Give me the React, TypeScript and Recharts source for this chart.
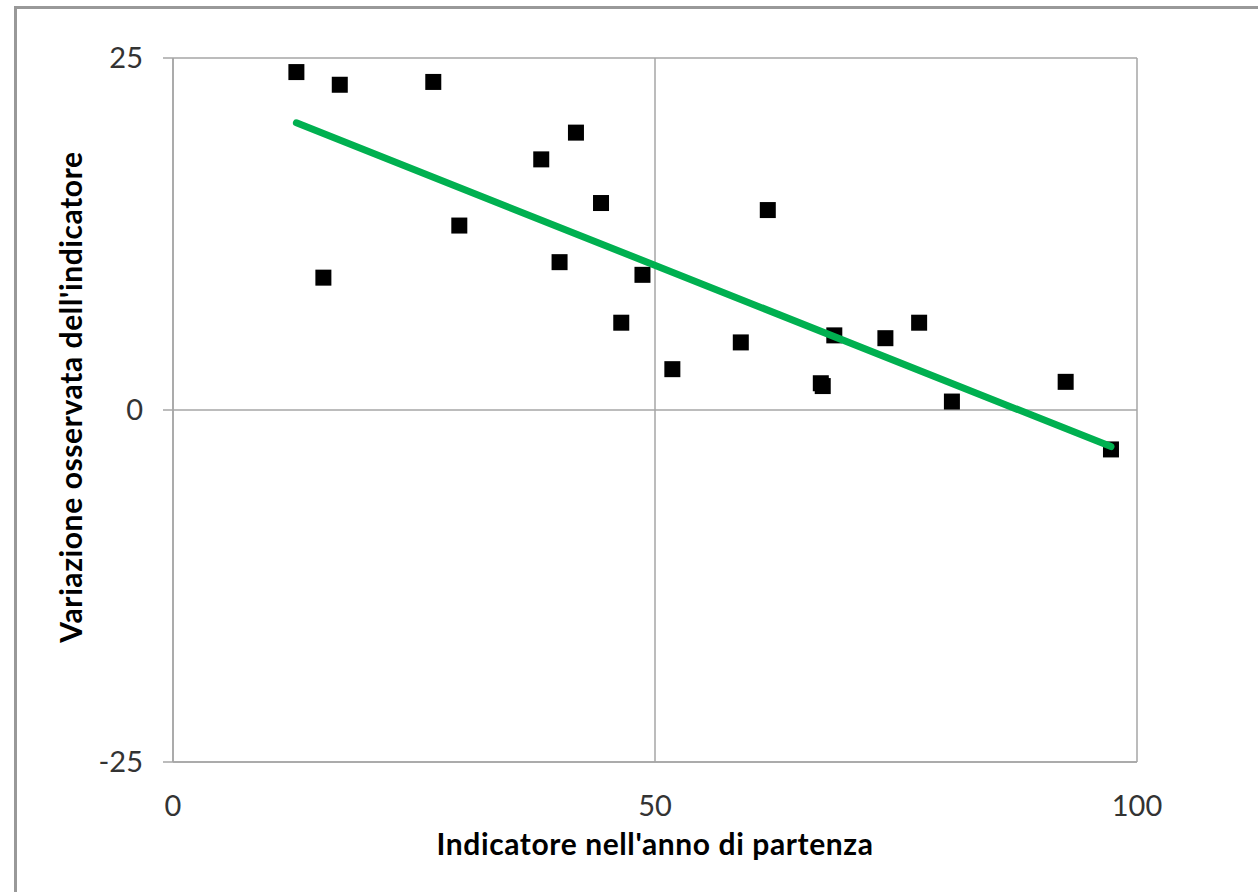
import React from "react";
import { ScatterChart, Scatter, XAxis, YAxis, CartesianGrid, Label } from "recharts";

const startValues = [12.8, 15.6, 17.3, 27.0, 29.7, 38.2, 40.1, 41.8, 44.4, 46.5, 48.7, 51.8, 58.9, 61.7, 67.2, 67.4, 68.6, 73.9, 77.4, 80.8, 92.6, 97.3];
const changes = [24.0, 9.4, 23.1, 23.3, 13.1, 17.8, 10.5, 19.7, 14.7, 6.2, 9.6, 2.9, 4.8, 14.2, 1.9, 1.7, 5.3, 5.1, 6.2, 0.6, 2.0, -2.8];

// linea di tendenza (estremi)
const trendX = [12.8, 97.3];
const trendY = [20.4, -2.6];

const xTicks = [0, 50, 100];
const yTicks = [-25, 0, 25];

const points = startValues.map((x, i) => ({ x, y: changes[i] }));
const trend = trendX.map((x, i) => ({ x, y: trendY[i] }));

const FONT = "Lato, 'Open Sans', sans-serif";
const GRID = "#a6a6a6";

const SquareDot = (props: any) => {
  const { cx, cy } = props;
  if (cx == null || cy == null) return null;
  return <rect x={cx - 8} y={cy - 8} width={16} height={16} fill="#000" />;
};

const YTitle = (props: any) => {
  const { x, y, height } = props.viewBox;
  const cx = x + 82;
  const cy = y + height / 2 - 13;
  return (
    <text
      x={cx}
      y={cy}
      transform={`rotate(-90 ${cx} ${cy})`}
      textAnchor="middle"
      fontFamily={FONT}
      fontWeight="bold"
      fontSize={30}
      letterSpacing={0.6}
      fill="#000"
    >
      Variazione osservata dell'indicatore
    </text>
  );
};

const XTitle = (props: any) => {
  const { x, y, width } = props.viewBox;
  return (
    <text
      x={x + width / 2}
      y={y + 93}
      textAnchor="middle"
      fontFamily={FONT}
      fontWeight="bold"
      fontSize={30}
      letterSpacing={0.6}
      fill="#000"
    >
      Indicatore nell'anno di partenza
    </text>
  );
};

export default function App() {
  return (
    <div style={{ position: "absolute", left: 0, top: 0, width: 1258, height: 892, overflow: "hidden", background: "#fff" }}>
      <div
        style={{
          position: "absolute",
          left: 14,
          top: 6,
          width: 1300,
          height: 950,
          border: "3px solid #999",
        }}
      />
      <div style={{ position: "absolute", left: 0, top: 0 }}>
        <ScatterChart width={1258} height={892} margin={{ top: 58, right: 121, bottom: 30, left: 0 }}>
          <CartesianGrid stroke={GRID} strokeWidth={1.5} />
          <XAxis
            type="number"
            dataKey="x"
            domain={[0, 100]}
            ticks={xTicks}
            height={100}
            axisLine={{ stroke: GRID, strokeWidth: 1.5 }}
            tickLine={false}
            tickSize={0}
            tickMargin={33}
            tick={{ fontFamily: FONT, fontSize: 29, fill: "#333" }}
          >
            <Label content={XTitle} />
          </XAxis>
          <YAxis
            type="number"
            dataKey="y"
            domain={[-25, 25]}
            ticks={yTicks}
            width={173}
            axisLine={{ stroke: GRID, strokeWidth: 1.5 }}
            tickLine={{ stroke: GRID, strokeWidth: 1.5 }}
            tickSize={10}
            tickMargin={20}
            tick={{ fontFamily: FONT, fontSize: 29, fill: "#333" }}
          >
            <Label content={YTitle} />
          </YAxis>
          <Scatter data={points} shape={SquareDot} isAnimationActive={false} />
          <Scatter
            data={trend}
            line={{ stroke: "#00b050", strokeWidth: 7, strokeLinecap: "round" }}
            shape={() => null}
            isAnimationActive={false}
          />
        </ScatterChart>
      </div>
    </div>
  );
}
